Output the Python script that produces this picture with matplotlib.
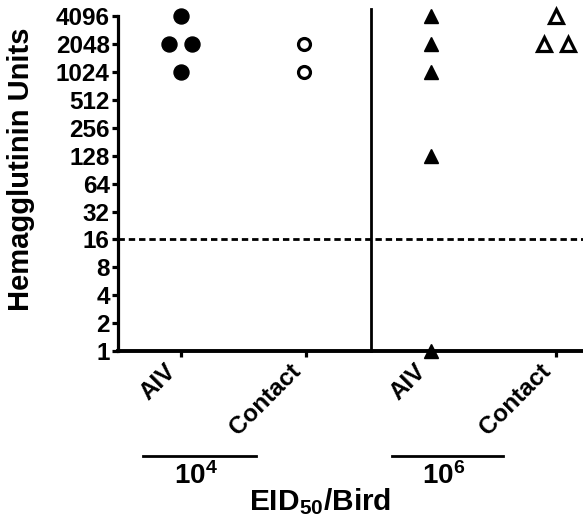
import numpy as np
import matplotlib
matplotlib.use("Agg")
import matplotlib.pyplot as plt
import matplotlib.transforms as mtransforms

plt.rcParams["font.family"] = ["Liberation Sans", "DejaVu Sans"]
plt.rcParams["font.weight"] = "bold"
plt.rcParams["mathtext.fontset"] = "custom"
plt.rcParams["mathtext.rm"] = "Liberation Sans:bold"
plt.rcParams["mathtext.bf"] = "Liberation Sans:bold"
plt.rcParams["mathtext.it"] = "Liberation Sans:bold"

INK = "black"

# category positions on x and their labels
GROUP_X = [1, 2, 3, 4]
GROUP_LABELS = ["AIV", "Contact", "AIV", "Contact"]
DOSE_LABELS = [r"$\mathbf{10^4}$", r"$\mathbf{10^6}$"]

# HA titers (hemagglutinin units) per bird, with horizontal jitter
aiv4_x = [1.0, 0.908, 1.092, 1.0]
aiv4_y = [4096, 2048, 2048, 1024]
con4_x = [1.99, 1.99]
con4_y = [2048, 1024]
aiv6_x = [3.0, 3.0, 3.0, 3.0, 3.0]
aiv6_y = [4096, 2048, 1024, 128, 1]
con6_x = [4.0, 3.91, 4.1]
con6_y = [4096, 2048, 2048]

Y_TICKS = [2 ** k for k in range(13)]
CUTOFF = 16

W, H = 583, 524
fig = plt.figure(figsize=(W / 100, H / 100), dpi=100)
ax = fig.add_axes([118 / W, 1 - 351 / H, 1 - 118 / W, (351 - 8) / H])

ax.set_yscale("log", base=2)
ax.set_ylim(1, 2 ** 12.3)
ax.set_xlim(0.5, 4.22)

ax.plot(aiv4_x, aiv4_y, "o", ms=10.8, color=INK, clip_on=False, zorder=4)
ax.plot(con4_x, con4_y, "o", ms=8.6, mfc="white", mec=INK, mew=2.3,
        clip_on=False, zorder=4)
ax.plot(aiv6_x, aiv6_y, "^", ms=10.2, color=INK, clip_on=False, zorder=4)
ax.plot(con6_x, con6_y, "^", ms=9.6, mfc="white", mec=INK, mew=2.3,
        clip_on=False, zorder=4)

# detection cutoff and dose separator
ax.axhline(CUTOFF, color=INK, lw=2.0, ls=(0, (2.3, 1.4)), zorder=2)
ax.plot([2.52, 2.52], [1, 2 ** 12.25], color=INK, lw=2.0, clip_on=False, zorder=2)

for side in ("top", "right"):
    ax.spines[side].set_visible(False)
ax.spines["left"].set_linewidth(2.3)
ax.spines["bottom"].set_linewidth(2.8)
ax.spines["left"].set_bounds(1, 4096)

ax.set_yticks(Y_TICKS)
ax.set_yticklabels([str(v) for v in Y_TICKS], fontsize=17.5, fontweight="bold")
ax.yaxis.set_minor_locator(matplotlib.ticker.NullLocator())
ax.set_xticks(GROUP_X)
ax.set_xticklabels(GROUP_LABELS, rotation=45, ha="right", fontsize=17.5,
                   fontweight="bold")
ax.tick_params(axis="both", width=2.3, length=4.5, pad=1.5)

# dose group bars + labels under the tick labels
trans = mtransforms.blended_transform_factory(ax.transData, fig.transFigure)
for (x0, x1), lab in zip([(0.7, 1.6), (2.69, 3.58)], DOSE_LABELS):
    ax.plot([x0, x1], [1 - 456 / H] * 2, color=INK, lw=2.0, transform=trans,
            clip_on=False)
    ax.text((x0 + x1) / 2 - 0.03, 1 - 476 / H, lab, transform=trans,
            ha="center", va="center", fontsize=20)

fig.text(320 / W, 1 - 502 / H, r"$\mathbf{EID_{50}/Bird}$", ha="center",
         va="center", fontsize=21.5)
fig.text(21 / W, 1 - 169 / H, "Hemagglutinin Units", rotation=90, ha="center",
         va="center", fontsize=21, fontweight="bold")

fig.savefig("out.png", dpi=100)
